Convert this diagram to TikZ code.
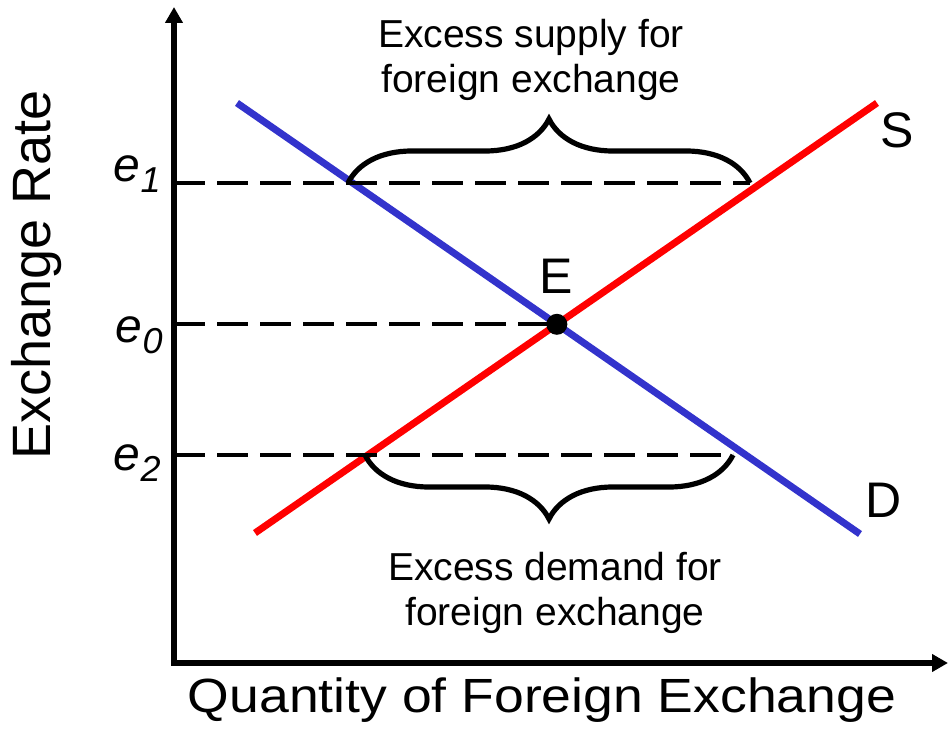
\documentclass[tikz,border=0pt]{standalone}
\usepackage{fontspec}
\setmainfont{Liberation Sans}
\usetikzlibrary{arrows.meta,decorations.pathreplacing}
\definecolor{demandblue}{RGB}{51,51,204}
\definecolor{supplyred}{RGB}{255,0,0}
\newcommand{\erate}[1]{\textit{e}\raisebox{-5.5pt}{\fontsize{18}{18}\selectfont\itshape #1}}
\begin{document}
\begin{tikzpicture}[x=0.5pt,y=0.5pt,
  axistip/.style={Triangle[length=8pt,width=8.5pt]},
  curve/.style={line width=3.5pt},
  level/.style={line width=2pt, dash pattern=on 15.5pt off 6pt},
  bracket/.style={line width=2.6pt, decorate, decoration={brace, amplitude=32pt}},
  note/.style={font=\fontsize{19.5}{22.5}\selectfont, align=center},
  tag/.style={font=\fontsize{25}{30}\selectfont, anchor=base},
  ratetag/.style={font=\fontsize{24}{28}\selectfont, anchor=base east, inner sep=0pt}]
\useasboundingbox (0,0) rectangle (948,735);
% axes
\coordinate (O) at (174,72);
\coordinate (ytop) at (174,728);
\coordinate (xend) at (948,72);
\draw[line width=3pt, {Triangle[length=8pt,width=8.5pt]}-{Triangle[length=8pt,width=8.5pt]}] (ytop) -- (O) -- (xend);
% demand and supply
\coordinate (D1) at (237,632);
\coordinate (D2) at (860,201);
\coordinate (S1) at (255,202);
\coordinate (S2) at (877,632);
\draw[curve, demandblue] (D1) -- (D2);
\draw[curve, supplyred] (S1) -- (S2);
\coordinate (Eq) at (intersection of D1--D2 and S1--S2);
% exchange rate levels
\coordinate (e1R) at (750,552);
\coordinate (e2R) at (733,280);
\draw[level] (O |- e1R) -- (e1R);
\draw[level] (O |- Eq) -- (Eq);
\draw[level] (O |- e2R) -- (e2R);
\node[circle, fill, inner sep=0pt, minimum size=10.5pt] (E) at (Eq) {};
% braces
\coordinate (b1L) at (348,552);
\coordinate (b2L) at (365,280);
\draw[bracket] (b1L) -- (e1R);
\draw[bracket] (e2R) -- (b2L);
% labels
\node[note] (supply) at (531,675) {Excess supply for\\foreign exchange};
\node[note] (demand) at (555,142) {Excess demand for\\foreign exchange};
\node[tag] (Elab) at (556,442) {E};
\node[tag] (Slab) at (897,587) {S};
\node[tag] (Dlab) at (884,218) {D};
\node[ratetag] (e1) at (161,553) {\erate{1}};
\node[ratetag] (e0) at (163,393) {\erate{0}};
\node[ratetag] (e2) at (161,265) {\erate{2}};
\node[font=\fontsize{27}{32}\selectfont, rotate=90, anchor=base] (ylab) at (50,460) {Exchange Rate};
\node[font=\fontsize{24}{28}\selectfont, anchor=base, xscale=1.115, transform shape] (xlab) at (542,23) {Quantity of Foreign Exchange};
\end{tikzpicture}
\end{document}
